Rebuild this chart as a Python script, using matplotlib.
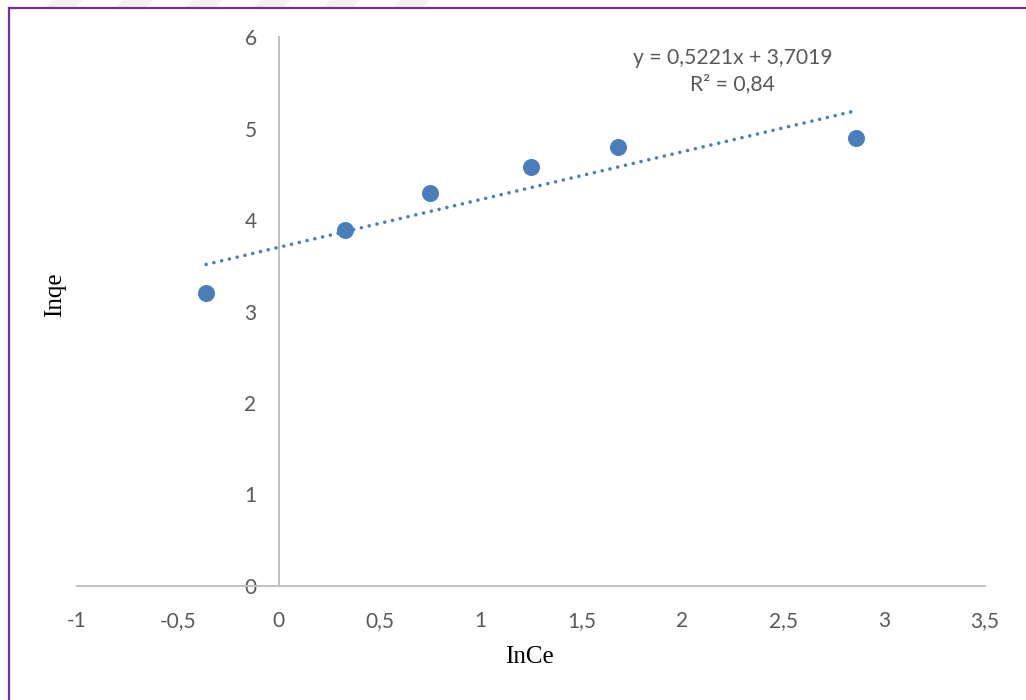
import matplotlib
matplotlib.use("Agg")
import matplotlib.pyplot as plt
import numpy as np
from matplotlib.patches import Polygon
from matplotlib.lines import Line2D

# ln Ce vs ln qe (Freundlich linear form)
ln_ce = [-0.36, 0.33, 0.75, 1.25, 1.68, 2.86]
ln_qe = [3.20, 3.89, 4.30, 4.58, 4.80, 4.90]

slope = 0.5221
intercept = 3.7019
r_squared = 0.84

x_ticks = [-1, -0.5, 0, 0.5, 1, 1.5, 2, 2.5, 3, 3.5]
y_ticks = [0, 1, 2, 3, 4, 5, 6]

POINT_COLOR = "#4a7ebb"
AXIS_COLOR = "#bfbfbf"
TEXT_COLOR = "#595959"


def comma(v):
    s = f"{v:g}"
    return s.replace(".", ",")


fig = plt.figure(figsize=(10.26, 7.0), dpi=100)
ax = fig.add_axes([0.075, 0.163, 0.885, 0.784])

ax.scatter(ln_ce, ln_qe, s=150, color=POINT_COLOR, zorder=3, linewidths=0)

fit_x = np.array([min(ln_ce), max(ln_ce)])
ax.plot(fit_x, slope * fit_x + intercept, color=POINT_COLOR, linewidth=2.6,
        linestyle=(0, (0.01, 2.2)), dash_capstyle="round", zorder=2)

ax.text(2.25, 5.63, f"y = {comma(slope)}x + {comma(intercept)}\n"
        f"R² = {comma(r_squared)}", ha="center", va="center",
        fontsize=15.2, color=TEXT_COLOR, family="Lato", linespacing=1.35)

ax.set_xlim(-1, 3.5)
ax.set_ylim(0, 6)
ax.set_xticks(x_ticks)
ax.set_xticklabels([comma(v) for v in x_ticks])
ax.set_yticks(y_ticks)
ax.set_yticklabels([comma(v) for v in y_ticks])

for side in ("top", "right"):
    ax.spines[side].set_visible(False)
ax.spines["left"].set_position(("data", 0))
for side in ("left", "bottom"):
    ax.spines[side].set_color(AXIS_COLOR)
    ax.spines[side].set_linewidth(1.4)

ax.tick_params(axis="both", length=0, labelsize=15, labelcolor=TEXT_COLOR)
ax.tick_params(axis="x", pad=18)
ax.tick_params(axis="y", pad=16)
for lbl in ax.get_xticklabels() + ax.get_yticklabels():
    lbl.set_family("Lato")

fig.text(0.516, 0.062, "InCe", ha="center", va="center", fontsize=18,
         family="Liberation Serif", color="black")
fig.text(0.054, 0.579, "Inqe", ha="center", va="center", fontsize=18,
         family="Liberation Serif", color="black", rotation=90)

# faint watermark stripes along the top edge
W, H = 1026, 700
for x0 in [53, 123, 193, 261, 330, 400]:
    pts = [(x0, 0), (x0 + 30, 0), (x0 + 22, 8), (x0 - 8, 8)]
    fig.patches.append(Polygon([(px / W, 1 - py / H) for px, py in pts],
                               closed=True, transform=fig.transFigure,
                               facecolor="#f1f1f1", edgecolor="none"))

# page frame: top and left edges
fig.add_artist(Line2D([9 / W, 1], [1 - 8 / H, 1 - 8 / H], transform=fig.transFigure,
                      color="#7030a0", linewidth=1.6))
fig.add_artist(Line2D([9 / W, 9 / W], [0, 1 - 8 / H], transform=fig.transFigure,
                      color="#7030a0", linewidth=1.6))

fig.savefig("out.png", dpi=100)
